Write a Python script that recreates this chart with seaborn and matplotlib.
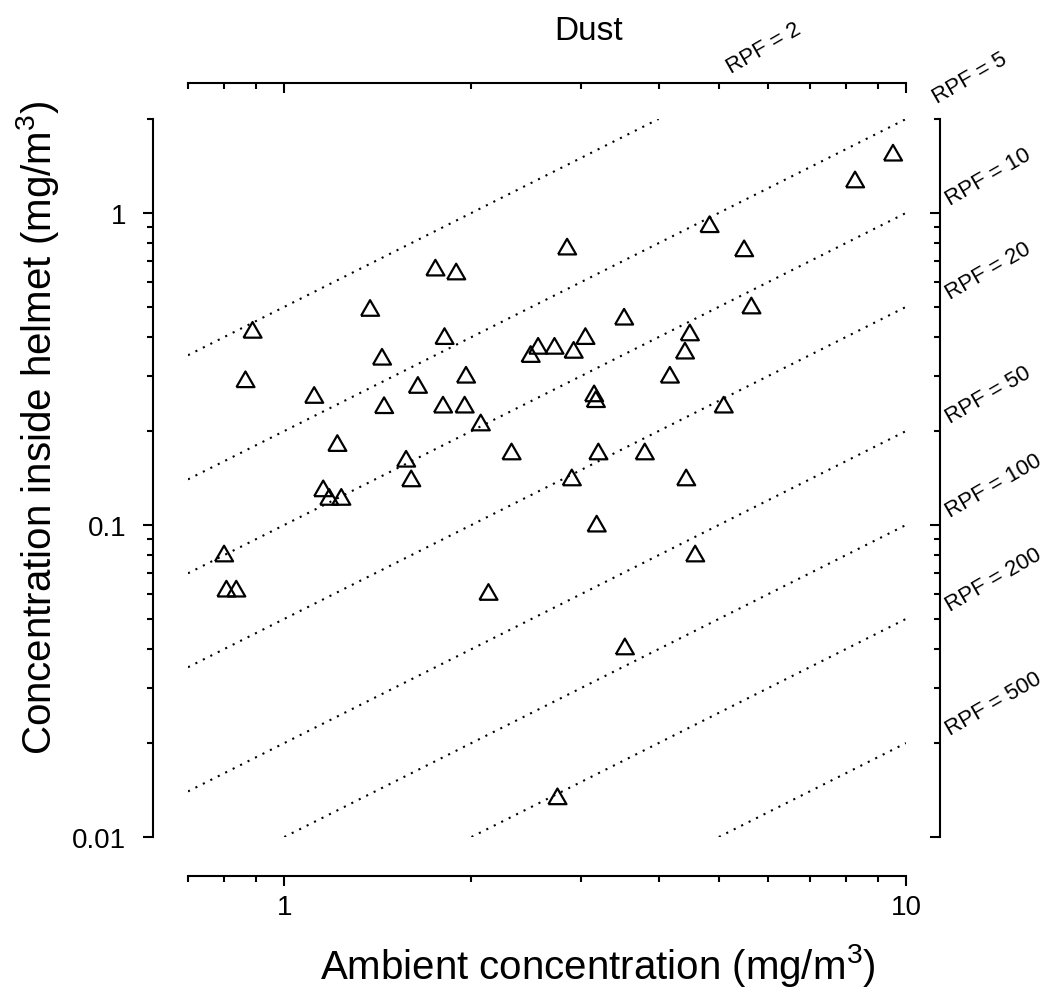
import numpy as np
import pandas as pd
import matplotlib
matplotlib.use("Agg")
import matplotlib.pyplot as plt
import seaborn as sns

# ---- data ----
ambient = [0.80, 0.807, 0.837, 0.866, 0.889, 1.117, 1.155, 1.181, 1.235, 1.217,
           1.374, 1.436, 1.447, 1.57, 1.60, 1.64, 1.75, 1.89, 1.81, 1.80,
           1.95, 1.96, 2.07, 2.13, 2.32, 2.49, 2.56, 2.72, 2.75, 2.85,
           2.90, 2.92, 3.05, 3.15, 3.17, 3.18, 3.20, 3.52, 3.53, 3.80,
           4.17, 4.41, 4.43, 4.49, 4.58, 4.83, 5.09, 5.49, 5.64, 8.28, 9.53]
inside = [0.081, 0.0625, 0.0625, 0.293, 0.422, 0.261, 0.131, 0.123, 0.123, 0.183,
          0.496, 0.346, 0.242, 0.163, 0.141, 0.281, 0.668, 0.649, 0.403, 0.243,
          0.243, 0.303, 0.213, 0.061, 0.172, 0.353, 0.375, 0.375, 0.0135, 0.78,
          0.142, 0.364, 0.403, 0.264, 0.253, 0.101, 0.172, 0.465, 0.0408, 0.172,
          0.303, 0.362, 0.142, 0.414, 0.081, 0.92, 0.243, 0.77, 0.505, 1.28, 1.56]
rpf_values = [2, 5, 10, 20, 50, 100, 200, 500]
x_major = [1, 10]
x_major_labels = ["1", "10"]
x_minor = [0.7, 0.8, 0.9, 2, 3, 4, 5, 6, 7, 8, 9]
y_major = [0.01, 0.1, 1]
y_major_labels = ["0.01", "0.1", "1"]
y_minor = [0.02, 0.03, 0.04, 0.05, 0.06, 0.07, 0.08, 0.09,
           0.2, 0.3, 0.4, 0.5, 0.6, 0.7, 0.8, 0.9, 2]
x_limits = (0.7, 10)
y_limits = (0.01, 2)
title = "Dust"
xlabel = r"Ambient concentration (mg/m$^{\mathrm{3}}$)"
ylabel = r"Concentration inside helmet (mg/m$^{\mathrm{3}}$)"

# ---- style ----
sns.set_theme(style="white")
plt.rcParams["font.family"] = ["Liberation Sans", "DejaVu Sans"]
plt.rcParams["mathtext.fontset"] = "custom"
plt.rcParams["mathtext.rm"] = "Liberation Sans"
plt.rcParams["mathtext.it"] = "Liberation Sans"
for k in ["text.color", "axes.labelcolor", "xtick.color", "ytick.color", "axes.edgecolor"]:
    plt.rcParams[k] = "black"

PT = 0.72  # points per pixel at 100 dpi
W, H = 1054, 1003
fig = plt.figure(figsize=(W / 100, H / 100), dpi=100)
fig.patch.set_facecolor("white")
px_l, px_r, px_t, px_b = 188, 906, 120, 838
ax = fig.add_axes([px_l / W, (H - px_b) / H, (px_r - px_l) / W, (px_b - px_t) / H])
ax.set_xscale("log")
ax.set_yscale("log")
ax.set_xlim(*x_limits)
ax.set_ylim(*y_limits)
ax.set_facecolor("white")

# RPF lines
for r in rpf_values:
    x0 = max(x_limits[0], y_limits[0] * r)
    x1 = min(x_limits[1], y_limits[1] * r)
    xs = np.array([x0, x1])
    df = pd.DataFrame({"x": xs, "y": xs / r})
    sns.lineplot(data=df, x="x", y="y", ax=ax, color="black", lw=1.5,
                 linestyle=(0, (1, 3)), dash_capstyle="butt")

# triangles (equilateral, centred on bbox)
tri = [(-1.347, -1.167), (1.347, -1.167), (0.0, 1.167), (-1.347, -1.167)]
pts = pd.DataFrame({"ambient": ambient, "inside": inside})
sns.scatterplot(data=pts, x="ambient", y="inside", ax=ax, marker=tri,
                s=13 ** 2, facecolor="none", edgecolor="black",
                linewidth=1.6, clip_on=False, zorder=5)

# RPF labels
for r in rpf_values:
    x1 = min(x_limits[1], y_limits[1] * r)
    y1 = x1 / r
    if x1 < x_limits[1]:
        off = (72, 46)
    elif abs(y1 - y_limits[1]) < 1e-9:
        off = (31, 16)
    else:
        off = (44, 8)
    ax.annotate(f"RPF = {r}", xy=(x1, y1), xytext=off, textcoords="offset pixels",
                rotation=30, rotation_mode="anchor", ha="left", va="baseline",
                fontsize=16, color="black", annotation_clip=False)

# axes / ticks
lw = 1.5
maj_len, min_len = 10 * PT, 6 * PT
for s in ax.spines.values():
    s.set_linewidth(lw)
    s.set_color("black")
ax.spines["top"].set_visible(False)
ax.spines["right"].set_visible(False)
ax.spines["left"].set_position(("outward", 35 * PT))
ax.spines["bottom"].set_position(("outward", 39 * PT))

def set_ticks(a, axis):
    if axis == "x":
        a.set_xticks(x_major)
        a.set_xticks(x_minor, minor=True)
    else:
        a.set_yticks(y_major)
        a.set_yticks(y_minor, minor=True)

set_ticks(ax, "x")
set_ticks(ax, "y")
ax.set_xticklabels(x_major_labels)
ax.set_yticklabels(y_major_labels)
ax.set_xticklabels([], minor=True)
ax.set_yticklabels([], minor=True)
ax.tick_params(which="major", direction="out", length=maj_len, width=lw,
               labelsize=20, color="black", labelcolor="black")
ax.tick_params(which="minor", direction="out", length=min_len, width=lw, color="black")
ax.tick_params(axis="y", which="major", pad=12)
ax.tick_params(axis="x", which="major", pad=6)
ax.set_xlabel("")
ax.set_ylabel("")

# top axis
axt = ax.twiny()
axt.set_xscale("log")
axt.set_xlim(*x_limits)
set_ticks(axt, "x")
axt.set_xticklabels([])
axt.set_xticklabels([], minor=True)
for k, s in axt.spines.items():
    s.set_visible(k == "top")
    s.set_linewidth(lw)
    s.set_color("black")
axt.spines["top"].set_position(("outward", 36 * PT))
axt.tick_params(which="major", direction="in", length=maj_len, width=lw, color="black")
axt.tick_params(which="minor", direction="in", length=min_len, width=lw, color="black")
axt.yaxis.set_visible(False)

# right axis
axr = ax.twinx()
axr.set_yscale("log")
axr.set_ylim(*y_limits)
set_ticks(axr, "y")
axr.set_yticklabels([])
axr.set_yticklabels([], minor=True)
for k, s in axr.spines.items():
    s.set_visible(k == "right")
    s.set_linewidth(lw)
    s.set_color("black")
axr.spines["right"].set_position(("outward", 34 * PT))
axr.tick_params(which="major", direction="in", length=maj_len, width=lw, color="black")
axr.tick_params(which="minor", direction="in", length=min_len, width=lw, color="black")
axr.xaxis.set_visible(False)

fig.text(589 / W, 1 - 32 / H, title, ha="center", va="center", fontsize=24)
fig.text(598 / W, 1 - 966 / H, xlabel, ha="center", va="center", fontsize=29)
fig.text(38 / W, 1 - 428 / H, ylabel, ha="center", va="center", rotation=90, fontsize=29)

fig.savefig("out.png", dpi=100, facecolor="white")
